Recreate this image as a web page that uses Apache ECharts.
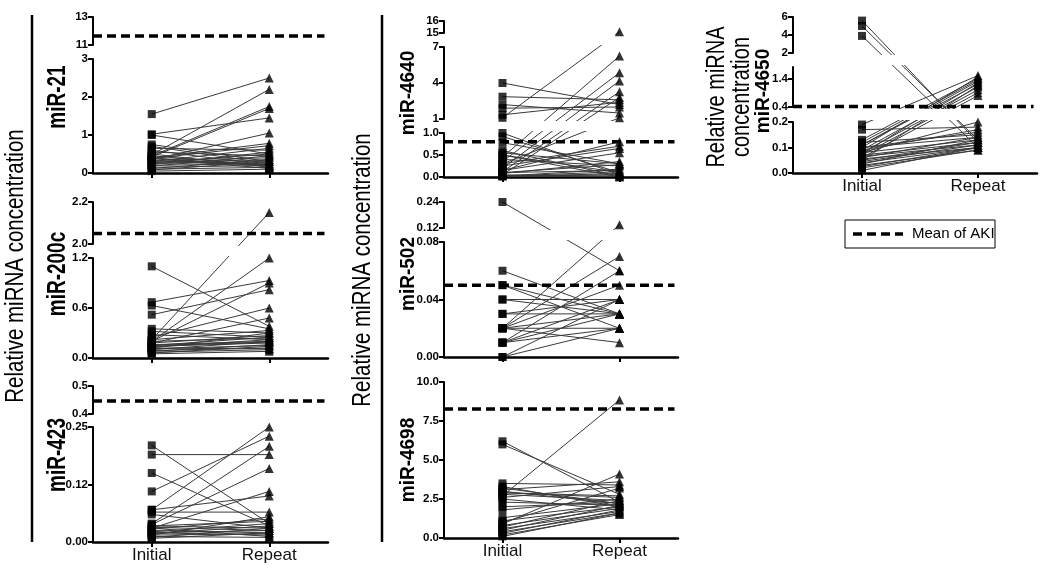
<!DOCTYPE html>
<html><head><meta charset="utf-8">
<script src="https://cdn.jsdelivr.net/npm/echarts@6/dist/echarts.min.js"></script>
<style>html,body{margin:0;padding:0;background:#fff}#c{width:1050px;height:580px}</style>
</head><body><div id="c"></div>
<script>
// ---------------- data ----------------
const categories = ['Initial', 'Repeat'];
const panelNames = ['miR-21', 'miR-200c', 'miR-423', 'miR-4640', 'miR-502', 'miR-4698', 'miR-4650'];
const meanOfAKI = [11.64, 2.05, 0.446, 0.80, 0.05, 8.27, 0.42];

const mir21Initial = [1.55,1.02,1.0,0.75,0.7,0.65,0.6,0.55,0.5,0.48,0.45,0.42,0.4,0.38,0.35,0.33,0.3,0.28,0.27,0.25,0.22,0.2,0.18,0.15,0.12,0.1,0.08,0.05,0.45,0.4,0.38,0.3];
const mir21Repeat  = [2.5,1.45,0.5,0.3,0.25,0.6,0.2,0.45,0.15,2.2,1.75,1.7,0.78,0.72,1.05,0.4,0.65,0.35,0.5,0.3,0.55,0.25,0.45,0.2,0.35,0.15,0.3,0.1,0.2,0.18,0.12,0.22];

const mir200cInitial = [1.1,0.67,0.63,0.52,0.35,0.32,0.28,0.25,0.22,0.2,0.2,0.18,0.18,0.16,0.15,0.14,0.13,0.12,0.11,0.1,0.09,0.08,0.07,0.06,0.05,0.22,0.2,0.15,0.12];
const mir200cRepeat  = [0.38,0.93,0.35,0.82,0.3,0.25,0.22,0.6,2.15,1.2,0.9,0.48,0.27,0.2,0.25,0.18,0.22,0.3,0.15,0.2,0.12,0.16,0.1,0.14,0.08,0.33,0.24,0.19,0.11];

const mir423Initial = [0.21,0.19,0.15,0.11,0.07,0.07,0.065,0.06,0.04,0.038,0.035,0.032,0.03,0.028,0.025,0.022,0.02,0.018,0.015,0.012,0.01,0.008,0.035,0.03,0.02,0.015];
const mir423Repeat  = [0.04,0.19,0.035,0.23,0.25,0.1,0.065,0.03,0.208,0.16,0.03,0.025,0.11,0.05,0.02,0.04,0.015,0.035,0.055,0.01,0.03,0.02,0.045,0.012,0.025,0.018];

const mir4640Initial = [4.0,2.86,2.2,1.9,1.35,1.1,1.0,0.92,0.78,0.6,0.55,0.5,0.45,0.4,0.35,0.3,0.25,0.2,0.15,0.12,0.1,0.08,0.05,0.03,0.02,0.01,0.3,0.15,0.05,0.02,0.5,0.1];
const mir4640Repeat  = [2.2,2.6,1.5,2.0,2.4,15.1,0.05,0.1,0.3,0.02,0.3,0.1,6.25,0.25,4.86,0.7,0.65,4.17,0.8,3.27,0.15,0.35,2.8,0.05,0.12,0.08,1.1,0.55,0.02,0.18,0.0,0.28];

const mir502Initial = [0.24,0.06,0.05,0.04,0.03,0.03,0.02,0.02,0.02,0.02,0.02,0.02,0.01,0.01,0.01,0.01,0.0,0.0,0.05,0.04];
const mir502Repeat  = [0.06,0.03,0.02,0.04,0.03,0.04,0.135,0.07,0.05,0.03,0.02,0.01,0.06,0.04,0.03,0.02,0.02,0.04,0.03,0.03];

const mir4698Initial = [6.2,6.0,2.7,0.9,3.5,3.3,3.1,3.0,2.9,2.8,2.6,2.5,2.3,2.0,1.8,1.3,1.1,1.0,0.8,0.7,0.6,0.5,0.4,0.3,0.2,0.1,2.9,3.2];
const mir4698Repeat  = [2.3,2.8,8.85,4.1,3.4,2.0,3.6,2.2,2.6,2.4,3.3,1.8,2.1,2.3,2.5,2.2,2.0,3.2,1.9,2.4,1.7,2.1,1.6,1.8,1.5,1.6,2.7,2.2];

const mir4650Initial = [5.6,5.0,3.9,0.19,0.17,0.13,0.12,0.12,0.11,0.11,0.1,0.1,0.09,0.09,0.08,0.08,0.075,0.07,0.07,0.065,0.06,0.06,0.055,0.05,0.05,0.045,0.04,0.035,0.03,0.025,0.02,0.01,0.1,0.08];
const mir4650Repeat  = [0.12,0.13,0.1,1.5,0.18,1.4,1.35,0.15,1.3,1.2,1.45,0.14,1.1,0.17,1.0,0.13,1.25,0.12,0.9,0.11,0.14,0.8,0.1,0.12,1.15,0.11,0.1,0.13,0.09,0.1,0.09,0.1,0.16,0.2];

// axis segments (bottom to top): [min, max, interval, decimals, showMaxLabel]
const mir21Axis   = [[0,3,1,0,true],[11,13,2,0,true]];
const mir200cAxis = [[0,1.2,0.6,1,true],[2.0,2.2,0.2,1,true]];
const mir423Axis  = [[0,0.25,0.125,2,true],[0.4,0.5,0.1,1,true]];
const mir4640Axis = [[0,1,0.5,1,true],[1,7,3,0,true],[15,16,1,0,true]];
const mir502Axis  = [[0,0.08,0.04,2,true],[0.12,0.24,0.12,2,true]];
const mir4698Axis = [[0,10,2.5,1,true]];
const mir4650Axis = [[0,0.2,0.1,1,true],[0.4,1.8,1,1,false],[2,6,2,0,true]];

const initials = [mir21Initial, mir200cInitial, mir423Initial, mir4640Initial, mir502Initial, mir4698Initial, mir4650Initial];
const repeats  = [mir21Repeat, mir200cRepeat, mir423Repeat, mir4640Repeat, mir502Repeat, mir4698Repeat, mir4650Repeat];
const axes     = [mir21Axis, mir200cAxis, mir423Axis, mir4640Axis, mir502Axis, mir4698Axis, mir4650Axis];

// ---------------- layout ----------------
const FONT = '"Liberation Sans", Arial, Helvetica, sans-serif';
const layout = [
  {left:93,  right:328,  xr:[-0.5,1.5],  segs:[[59,173],[17,45]],           xLabels:false, label:[58,97,1.4]},
  {left:93,  right:328,  xr:[-0.5,1.5],  segs:[[258,358],[202,244]],        xLabels:false, label:[58,274,1.4]},
  {left:93,  right:328,  xr:[-0.5,1.5],  segs:[[427,542],[386,414]],        xLabels:true,  label:[58,455,1.4]},
  {left:444, right:678,  xr:[-0.5,1.5],  segs:[[133,177],[47,119],[21,33]], xLabels:false, label:[408,93,1.1]},
  {left:444, right:678,  xr:[-0.5,1.5],  segs:[[242,357],[202,228]],        xLabels:false, label:[408,274,1.1]},
  {left:444, right:678,  xr:[-0.5,1.5],  segs:[[382,538]],                  xLabels:true,  label:[408,460,1.1]},
  {left:793, right:1037, xr:[-0.595,1.509],segs:[[122,173],[67,107],[17,53]], xLabels:true, label:[763,91,1.1]}
];

function fmt(v, d) {
  const p = Math.pow(10, d);
  return (Math.floor(v * p + 1e-6) / p).toFixed(d);
}

const grid = [], xAxis = [], yAxis = [], series = [], graphic = [];

const rotText = (x, y, text, font, sy) => ({
  type: 'text', x: x, y: y, rotation: Math.PI / 2, scaleY: sy,
  style: {text: text, font: font, fill: '#000', lineHeight: 19,
          textAlign: 'center', textVerticalAlign: 'middle', align: 'center', verticalAlign: 'middle'}
});

panelNames.forEach((name, pi) => {
  const L = layout[pi], segDefs = axes[pi];
  const B = L.segs[0][1], T = L.segs[L.segs.length - 1][0], H = B - T;
  // broken-axis scale: value -> offset above panel bottom
  const toDisp = v => {
    let k = 0;
    while (k < segDefs.length - 1 && v > segDefs[k][1] + 1e-9) k++;
    const s = segDefs[k], px = L.segs[k];
    return (B - px[1]) + (v - s[0]) / (s[1] - s[0]) * (px[1] - px[0]);
  };
  segDefs.forEach((s, k) => {
    const gi = grid.length;
    const px = L.segs[k];
    grid.push({left: L.left, top: px[0], width: L.right - L.left, height: px[1] - px[0]});
    xAxis.push({
      type: 'value', gridIndex: gi, min: L.xr[0], max: L.xr[1], show: k === 0, position: 'bottom',
      axisLine: {show: true, onZero: false, lineStyle: {color: '#000', width: 2.5}},
      axisTick: {show: true, customValues: [0, 1], length: 5, lineStyle: {color: '#000', width: 2}},
      axisLabel: {show: L.xLabels, customValues: [0, 1], formatter: v => categories[Math.round(v)] || '',
                  color: '#111', fontFamily: FONT, fontSize: 17, margin: 5},
      splitLine: {show: false}
    });
    yAxis.push({
      type: 'value', gridIndex: gi, min: s[0], max: s[1], interval: s[2], position: 'left',
      axisLine: {show: true, onZero: false, lineStyle: {color: '#000', width: 2}},
      axisTick: {show: true, length: 5, lineStyle: {color: '#000', width: 2}},
      axisLabel: {color: '#000', fontFamily: FONT, fontSize: 11.5, fontWeight: 'bold', margin: 5,
                  showMinLabel: true, showMaxLabel: s[4], formatter: v => fmt(v, s[3])},
      splitLine: {show: false}
    });
  });
  const og = grid.length;
  grid.push({left: L.left, top: T, width: L.right - L.left, height: H});
  xAxis.push({type: 'value', gridIndex: og, min: L.xr[0], max: L.xr[1], show: false});
  yAxis.push({type: 'value', gridIndex: og, min: 0, max: H, show: false});
  graphic.push(rotText(L.label[0], L.label[1], name, 'bold 19px ' + FONT, L.label[2]));

  const ini = initials[pi], rep = repeats[pi];
  series.push({
    type: 'custom', xAxisIndex: og, yAxisIndex: og, z: 2, silent: true,
    data: ini.map((a, i) => [toDisp(a), toDisp(rep[i])]),
    renderItem: (params, api) => {
      const p0 = api.coord([0, api.value(0)]);
      const p1 = api.coord([1, api.value(1)]);
      return {type: 'line', shape: {x1: p0[0], y1: p0[1], x2: p1[0], y2: p1[1]},
              style: {stroke: '#3a3a3a', lineWidth: 1}};
    }
  });
  const gaps = [];
  for (let k = 0; k < L.segs.length - 1; k++) gaps.push([B - L.segs[k][0], B - L.segs[k + 1][1]]);
  if (gaps.length) series.push({
    type: 'custom', xAxisIndex: og, yAxisIndex: og, z: 3, silent: true, data: gaps,
    renderItem: (params, api) => {
      const cs = params.coordSys;
      const yTop = api.coord([0, api.value(1)])[1];
      const yBot = api.coord([0, api.value(0)])[1];
      return {type: 'rect', shape: {x: cs.x + 3, y: yTop + 2, width: cs.width, height: yBot - yTop - 4},
              style: {fill: '#fff'}};
    }
  });
  series.push({
    type: 'line', xAxisIndex: og, yAxisIndex: og, z: 4, silent: true, symbol: 'none',
    data: [[L.xr[0], toDisp(meanOfAKI[pi])], [L.xr[1] - 0.03, toDisp(meanOfAKI[pi])]],
    lineStyle: {color: '#000', width: 3.5, type: [9, 5]}
  });
  series.push({
    type: 'scatter', xAxisIndex: og, yAxisIndex: og, z: 5, silent: true,
    symbol: 'rect', symbolSize: 8, itemStyle: {color: '#000'},
    data: ini.map(a => [0, toDisp(a)])
  });
  series.push({
    type: 'scatter', xAxisIndex: og, yAxisIndex: og, z: 5, silent: true,
    symbol: 'triangle', symbolSize: 9, itemStyle: {color: '#000'},
    data: rep.map(b => [1, toDisp(b)])
  });
});

graphic.push(
  {type: 'line', shape: {x1: 32, y1: 15, x2: 32, y2: 542}, style: {stroke: '#000', lineWidth: 2.5}},
  {type: 'line', shape: {x1: 382, y1: 15, x2: 382, y2: 542}, style: {stroke: '#000', lineWidth: 2.5}},
  rotText(16, 266, 'Relative miRNA concentration', '20.5px ' + FONT, 1.3),
  rotText(363, 270, 'Relative miRNA concentration', '20.5px ' + FONT, 1.3),
  rotText(729, 97, 'Relative miRNA\nconcentration', '20px ' + FONT, 1.3),
  {type: 'rect', shape: {x: 845, y: 220, width: 150, height: 28}, style: {fill: '#fff', stroke: '#000', lineWidth: 1}},
  {type: 'line', shape: {x1: 853, y1: 234, x2: 903, y2: 234}, style: {stroke: '#000', lineWidth: 3.5, lineDash: [9, 5]}},
  {type: 'text', x: 912, y: 234, style: {text: 'Mean of AKI', font: '15px ' + FONT, fill: '#000',
    textAlign: 'left', textVerticalAlign: 'middle', align: 'left', verticalAlign: 'middle'}}
);

const chart = echarts.init(document.getElementById('c'), null, {renderer: 'canvas'});
chart.setOption({
  animation: false,
  backgroundColor: '#fff',
  grid: grid, xAxis: xAxis, yAxis: yAxis, series: series, graphic: graphic
});
</script>
</body></html>
